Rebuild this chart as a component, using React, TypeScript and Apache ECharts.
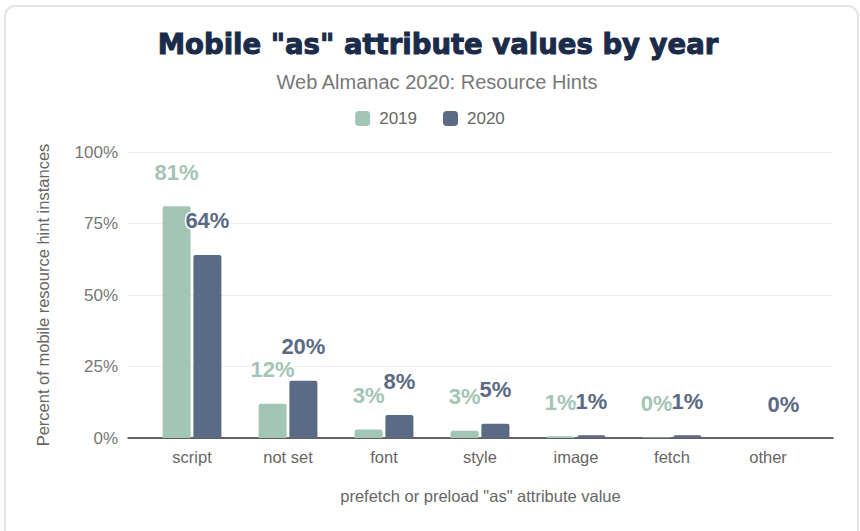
import React, { useEffect, useRef } from "react";
import * as echarts from "echarts";

const categories = ["script", "not set", "font", "style", "image", "fetch", "other"];
const values2019: (number | null)[] = [81, 12, 3, 2.5, 0.6, 0.2, null];
const values2020: (number | null)[] = [64, 20, 8, 5, 1, 1, 0];
const labels2019: (string | null)[] = ["81%", "12%", "3%", "3%", "1%", "0%", null];
const labels2020: (string | null)[] = ["64%", "20%", "8%", "5%", "1%", "1%", "0%"];
const yTicks = [0, 25, 50, 75, 100];

const C2019 = "#a3c5b5";
const C2020 = "#5b6a85";
const FONT = "Liberation Sans, Arial, sans-serif";

export default function App() {
  const ref = useRef<HTMLDivElement>(null);
  useEffect(() => {
    if (!ref.current) return;
    const chart = echarts.init(ref.current, undefined, { renderer: "svg" });
    const top = 152;
    const bottom = 93;
    const barLabel = (color: string, labels: (string | null)[]) => ({
      show: true,
      position: "top",
      distance: 23,
      fontSize: 22,
      fontWeight: "bold",
      color,
      fontFamily: FONT,
      textBorderColor: "#fff",
      textBorderWidth: 3,
      formatter: (p: any) => labels[p.dataIndex] ?? "",
    });
    chart.setOption({
      animation: false,
      backgroundColor: "#fff",
      textStyle: { fontFamily: FONT },
      graphic: [
        {
          type: "rect",
          shape: { x: 5, y: 6, width: 853, height: 560, r: 10 },
          style: { fill: "none", stroke: "#e4e4e4", lineWidth: 2 },
          z: -1,
        },
      ],
      title: [
        {
          text: 'Mobile "as" attribute values by year',
          left: 433,
          textAlign: "center",
          top: 25,
          textStyle: {
            fontFamily: "DejaVu Sans",
            fontWeight: "bold",
            fontSize: 27.5,
            color: "#1b2b4a",
            textBorderColor: "#1b2b4a",
            textBorderWidth: 1,
          },
        },
        {
          text: "Web Almanac 2020: Resource Hints",
          left: 432,
          textAlign: "center",
          top: 67,
          textStyle: { fontFamily: FONT, fontWeight: "normal", fontSize: 20, color: "#777" },
        },
      ],
      legend: {
        top: 105,
        left: "center",
        itemWidth: 15,
        itemHeight: 15,
        itemGap: 26,
        icon: "roundRect",
        textStyle: { fontSize: 17, color: "#666", fontFamily: FONT, padding: [0, 0, 0, 4] },
        data: ["2019", "2020"],
      },
      grid: [
        { left: 128, right: 27, top, bottom },
        { left: 144, right: 44, top, bottom },
      ],
      xAxis: [
        {
          gridIndex: 0,
          type: "value",
          min: 0,
          max: 1,
          axisLine: { show: true, onZero: false, lineStyle: { color: "#333", width: 1.5 } },
          axisTick: { show: false },
          axisLabel: { show: false },
          splitLine: { show: false },
          name: 'prefetch or preload "as" attribute value',
          nameLocation: "middle",
          nameGap: 49,
          nameTextStyle: { fontSize: 16.5, color: "#666", fontFamily: FONT },
        },
        {
          gridIndex: 1,
          type: "category",
          data: categories,
          axisLine: { show: false },
          axisTick: { show: false },
          axisLabel: { fontSize: 16.5, color: "#666", margin: 10, fontFamily: FONT },
        },
      ],
      yAxis: [
        {
          gridIndex: 0,
          type: "value",
          min: 0,
          max: 100,
          interval: 25,
          axisLine: { show: false },
          axisTick: { show: false },
          axisLabel: {
            fontSize: 17,
            color: "#777",
            margin: 10,
            fontFamily: FONT,
            formatter: (v: number) => (yTicks.includes(v) ? v + "%" : ""),
          },
          splitLine: { lineStyle: { color: "#ebebeb", width: 1 } },
          name: "Percent of mobile resource hint instances",
          nameLocation: "middle",
          nameGap: 77,
          nameTextStyle: { fontSize: 16.5, color: "#666", fontFamily: FONT },
        },
        { gridIndex: 1, type: "value", min: 0, max: 100, show: false },
      ],
      series: [
        {
          name: "2019",
          type: "bar",
          xAxisIndex: 1,
          yAxisIndex: 1,
          data: values2019,
          barWidth: 28,
          barGap: "10%",
          itemStyle: { color: C2019, borderRadius: [2, 2, 0, 0] },
          label: barLabel(C2019, labels2019),
        },
        {
          name: "2020",
          type: "bar",
          xAxisIndex: 1,
          yAxisIndex: 1,
          data: values2020,
          barWidth: 28,
          barGap: "10%",
          itemStyle: { color: C2020, borderRadius: [2, 2, 0, 0] },
          label: barLabel(C2020, labels2020),
        },
      ],
    });
    return () => chart.dispose();
  }, []);
  return (
    <div
      ref={ref}
      style={{ position: "absolute", left: 0, top: 0, width: 860, height: 531 }}
    />
  );
}
